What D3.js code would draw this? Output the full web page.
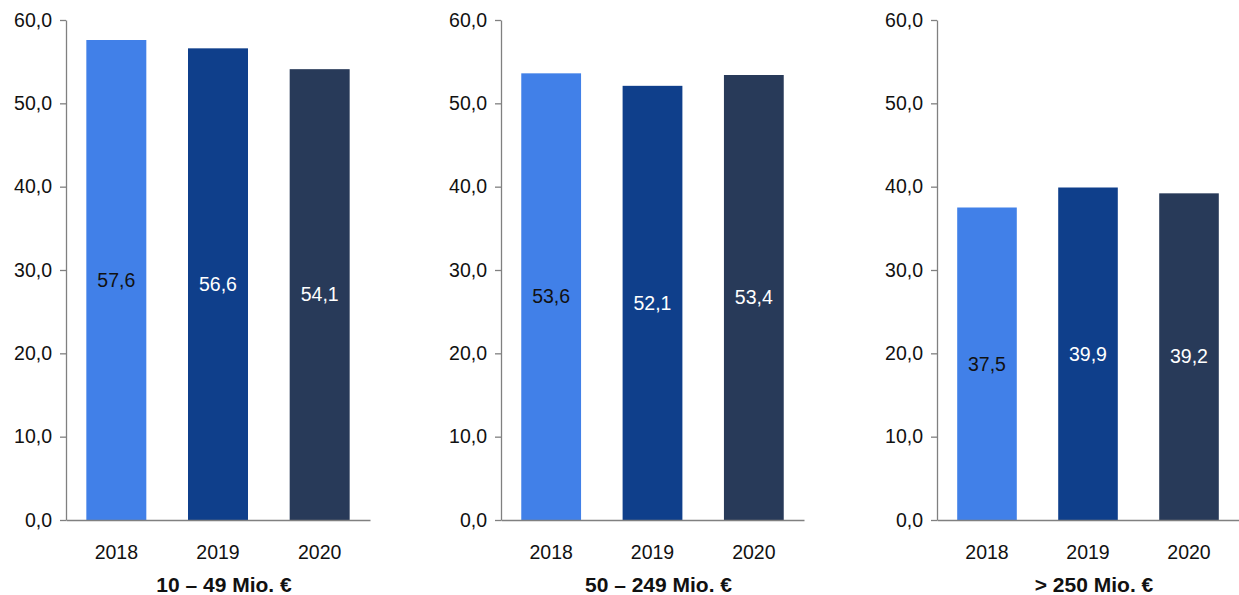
<!DOCTYPE html>
<html>
<head>
<meta charset="utf-8">
<script src="https://cdn.jsdelivr.net/npm/d3@7"></script>
<style>
  html, body { margin: 0; padding: 0; background: #ffffff; }
  svg { display: block; }
  text { font-family: "Liberation Sans", Arial, sans-serif; }
</style>
</head>
<body>
<svg id="chart" width="1239" height="595"></svg>
<script>
// ---- data ----
const years = ["2018", "2019", "2020"];
const panelTitles = ["10 \u2013 49 Mio. \u20ac", "50 \u2013 249 Mio. \u20ac", "> 250 Mio. \u20ac"];
const valuesSmall = [57.6, 56.6, 54.1];
const valuesMid = [53.6, 52.1, 53.4];
const valuesLarge = [37.5, 39.9, 39.2];
const yTicks = [0, 10, 20, 30, 40, 50, 60];
const barColors = ["#4180e8", "#0f3f8b", "#283a59"];
const labelColors = ["#111111", "#ffffff", "#ffffff"];

const panelValues = [valuesSmall, valuesMid, valuesLarge];

// ---- layout ----
const svg = d3.select("#chart");
const plotTop = 20, plotBottom = 520;
const panels = [
  { x0: 66, x1: 370 },
  { x0: 501, x1: 804 },
  { x0: 937, x1: 1239 }
];

const locale = d3.formatLocale({ decimal: ",", thousands: ".", grouping: [3], currency: ["", " \u20ac"] });
const fmt = locale.format(".1f");

const y = d3.scaleLinear().domain([0, 60]).range([plotBottom, plotTop]);

panels.forEach((p, i) => {
  const vals = panelValues[i];
  const x = d3.scaleBand().domain(years).range([p.x0, p.x1]).paddingInner(0.41).paddingOuter(0.2);
  const g = svg.append("g");

  // bars
  g.selectAll("rect.bar").data(years).enter().append("rect")
    .attr("class", "bar")
    .attr("x", d => x(d))
    .attr("width", x.bandwidth())
    .attr("y", (d, j) => y(vals[j]))
    .attr("height", (d, j) => y(0) - y(vals[j]))
    .attr("fill", (d, j) => barColors[j]);

  // value labels
  g.selectAll("text.val").data(years).enter().append("text")
    .attr("class", "val")
    .attr("x", d => x(d) + x.bandwidth() / 2)
    .attr("y", (d, j) => y(vals[j] / 2))
    .attr("dy", "0.35em")
    .attr("text-anchor", "middle")
    .attr("font-size", "19.5px")
    .attr("fill", (d, j) => labelColors[j])
    .text((d, j) => fmt(vals[j]));

  // y axis
  const yAxis = g.append("g")
    .attr("transform", `translate(${p.x0},0)`)
    .call(d3.axisLeft(y).tickValues(yTicks).tickFormat(fmt).tickSize(6).tickPadding(8).tickSizeOuter(0));
  yAxis.select(".domain").attr("stroke", "#808080").attr("stroke-width", 1.3);
  yAxis.selectAll(".tick line").attr("stroke", "#808080").attr("stroke-width", 1.3);
  yAxis.selectAll(".tick text").attr("font-size", "19.5px").attr("fill", "#111111")
    .attr("font-family", "'Liberation Sans', Arial, sans-serif");

  // x axis
  const xAxis = g.append("g")
    .attr("transform", `translate(0,${plotBottom})`)
    .call(d3.axisBottom(x).tickSize(0).tickPadding(25).tickSizeOuter(0));
  xAxis.select(".domain").attr("stroke", "#808080").attr("stroke-width", 1.3);
  xAxis.selectAll(".tick text").attr("font-size", "19.5px").attr("fill", "#111111")
    .attr("font-family", "'Liberation Sans', Arial, sans-serif");

  // title
  g.append("text")
    .attr("x", x(years[1]) + x.bandwidth() / 2 + 6)
    .attr("y", 592)
    .attr("text-anchor", "middle")
    .attr("font-size", "21px")
    .attr("font-weight", "bold")
    .attr("fill", "#111111")
    .text(panelTitles[i]);
});
</script>
</body>
</html>
